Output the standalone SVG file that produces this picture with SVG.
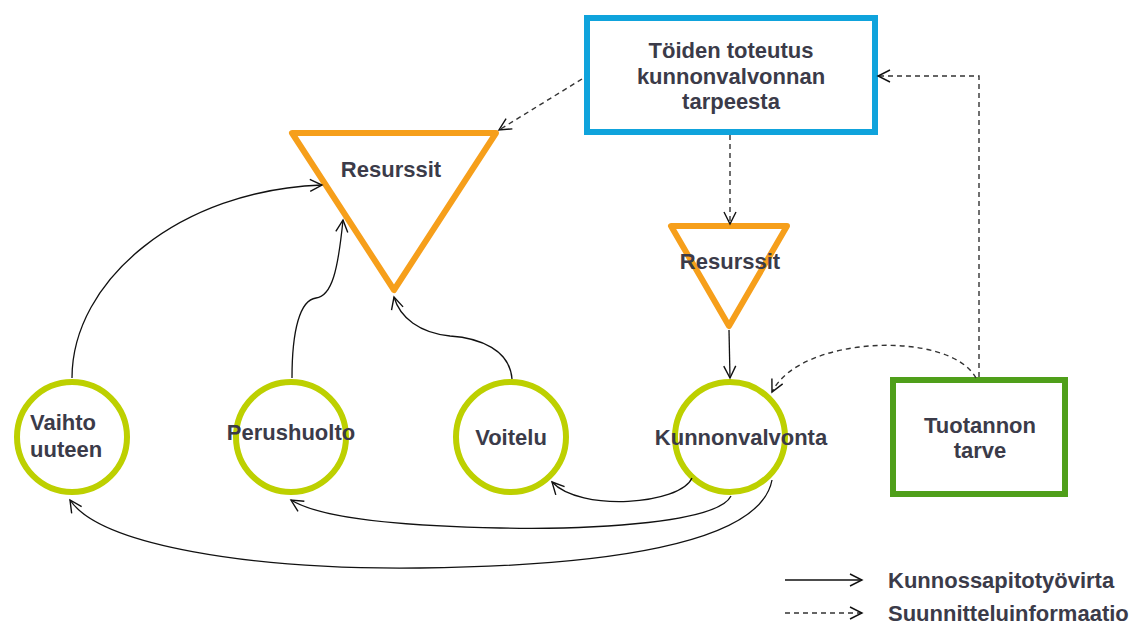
<svg xmlns="http://www.w3.org/2000/svg" width="1135" height="626" viewBox="0 0 1135 626">
<style>
.t{font-family:"Liberation Sans",Arial,sans-serif;font-weight:bold;font-size:22px;fill:#3b3b49}
.c{text-anchor:middle}
.circ{fill:#fff;stroke:#bdd000;stroke-width:6}
.tri{fill:#fff;stroke:#f69f1b;stroke-width:6;stroke-linejoin:round}
.sol{fill:none;stroke:#111;stroke-width:1.3}
.das{fill:none;stroke:#333;stroke-width:1.4;stroke-dasharray:5,4}
</style>
<defs>
<marker id="a" markerUnits="userSpaceOnUse" markerWidth="16" markerHeight="16" refX="13" refY="7" orient="auto">
<path d="M1,1 L13,7 L1,13" fill="none" stroke="#111" stroke-width="1.4"/>
</marker>
</defs>
<rect width="1135" height="626" fill="#fff"/>
<g id="toiden">
<rect x="587" y="18" width="288" height="114" fill="#fff" stroke="#0fa3dc" stroke-width="6"/>
<text class="t c" x="731" y="58">Töiden toteutus</text>
<text class="t c" x="731" y="84">kunnonvalvonnan</text>
<text class="t c" x="731" y="109">tarpeesta</text>
</g>
<g id="resurssit1">
<polygon class="tri" points="292,133 496,133 394,290"/>
<text class="t c" x="391" y="177">Resurssit</text>
</g>
<g id="resurssit2">
<polygon class="tri" points="671,226 787,226 729,326"/>
<text class="t c" x="730" y="269">Resurssit</text>
</g>
<g id="vaihto">
<circle class="circ" cx="72" cy="437" r="55"/>
<text class="t" x="30" y="430">Vaihto</text>
<text class="t" x="30" y="457">uuteen</text>
</g>
<g id="perushuolto">
<circle class="circ" cx="291" cy="437" r="55"/>
<text class="t c" x="291" y="440">Perushuolto</text>
</g>
<g id="voitelu">
<circle class="circ" cx="511" cy="437" r="55"/>
<text class="t c" x="511" y="445">Voitelu</text>
</g>
<g id="kunnonvalvonta">
<circle class="circ" cx="730" cy="437" r="55"/>
<text class="t c" x="741" y="445">Kunnonvalvonta</text>
</g>
<g id="tuotannon">
<rect x="893" y="380" width="172" height="114" fill="#fff" stroke="#4f9f1a" stroke-width="6"/>
<text class="t c" x="980" y="433">Tuotannon</text>
<text class="t c" x="980" y="458">tarve</text>
</g>
<g id="connectors">
<path class="das" d="M582,79 L499,130" marker-end="url(#a)"/>
<path class="das" d="M730,135 L730,224" marker-end="url(#a)"/>
<path class="das" d="M979,377 L979,76 L878,76" marker-end="url(#a)"/>
<path class="das" d="M976,378 C950,330 800,335 772,392" marker-end="url(#a)"/>
<path class="sol" d="M729,330 L730,378" marker-end="url(#a)"/>
<path class="sol" d="M72,378 C72,280 180,190 322,185" marker-end="url(#a)"/>
<path class="sol" d="M292,378 C292,330 300,300 316,298 C332,296 338,270 343,220" marker-end="url(#a)"/>
<path class="sol" d="M512,379 C510,350 480,338 450,336 C420,333 400,318 394,297" marker-end="url(#a)"/>
<path class="sol" d="M692,478 C680,505 580,512 552,482" marker-end="url(#a)"/>
<path class="sol" d="M731,496 C718,522 600,530 500,528 C400,526 320,518 291,500" marker-end="url(#a)"/>
<path class="sol" d="M772,480 C760,545 600,566 420,568 C250,570 100,545 70,500" marker-end="url(#a)"/>
</g>
<g id="legend">
<path class="sol" d="M785,580 L862,580" marker-end="url(#a)"/>
<path class="das" d="M785,613 L862,613" marker-end="url(#a)"/>
<text class="t" x="888" y="588">Kunnossapitotyövirta</text>
<text class="t" x="888" y="621">Suunnitteluinformaatio</text>
</g>
</svg>
